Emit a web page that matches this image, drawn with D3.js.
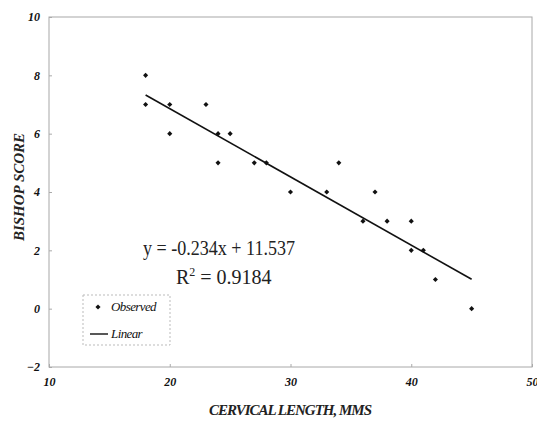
<!DOCTYPE html>
<html>
<head>
<meta charset="utf-8">
<script src="https://cdn.jsdelivr.net/npm/d3@7"></script>
<style>
  body { margin: 0; background: #fff; }
  svg { display: block; }
</style>
</head>
<body>
<svg id="chart" width="537" height="421"></svg>
<script>
'use strict'

// cervical length (mm) against bishop score
var cervicalLength = [18, 18, 20, 20, 23, 24, 24, 25, 27, 28, 30, 33, 34, 36, 37, 38, 40, 40, 41, 42, 45];
var bishopScore    = [ 8,  7,  7,  6,  7,  6,  5,  6,  5,  5,  4,  4,  5,  3,  4,  3,  3,  2,  2,  1,  0];

// fitted trend as printed on the chart
var slope = -0.234, intercept = 11.537, rSquared = 0.9184;

var xTicks = [10, 20, 30, 40, 50];
var yTicks = [-2, 0, 2, 4, 6, 8, 10];

var margin = {top: 17, right: 5, bottom: 54, left: 49};
var W = 537, H = 421;
var width = W - margin.left - margin.right, height = H - margin.top - margin.bottom;

var svg = d3.select('#chart');
var g = svg.append('g').attr('transform', 'translate(' + margin.left + ',' + margin.top + ')');

var x = d3.scaleLinear().domain([10, 50]).range([0, width]);
var y = d3.scaleLinear().domain([-2, 10]).range([height, 0]);

// plot frame
g.append('rect')
  .attr('width', width).attr('height', height)
  .attr('fill', 'none').attr('stroke', '#a8a8a8').attr('stroke-width', 1);

var xAxis = g.append('g')
  .attr('transform', 'translate(0,' + height + ')')
  .call(d3.axisBottom(x).tickValues(xTicks).tickSizeInner(-3).tickSizeOuter(0).tickPadding(10));
var yAxis = g.append('g')
  .call(d3.axisLeft(y).tickValues(yTicks).tickSizeInner(-3).tickSizeOuter(0).tickPadding(9));

[xAxis, yAxis].forEach(function(a){
  a.select('.domain').remove();
  a.selectAll('.tick line').attr('stroke', '#aaa');
  a.selectAll('.tick text')
    .attr('font-family', 'Liberation Serif')
    .attr('font-weight', 'bold')
    .attr('font-style', 'italic')
    .attr('font-size', 12)
    .attr('fill', '#111');
});

// trend line over the observed range
var xr = d3.extent(cervicalLength);
g.append('line')
  .attr('x1', x(xr[0])).attr('y1', y(slope * xr[0] + intercept))
  .attr('x2', x(xr[1])).attr('y2', y(slope * xr[1] + intercept))
  .attr('stroke', '#111').attr('stroke-width', 1.6);

// small square turned on its corner
var marker = d3.symbol().type(d3.symbolSquare).size(13);

g.selectAll('path.pt')
  .data(cervicalLength)
  .enter()
  .append('path')
  .attr('class', 'pt')
  .attr('d', marker)
  .attr('transform', function(d, i){
    return 'translate(' + x(d) + ',' + y(bishopScore[i]) + ') rotate(45)';
  })
  .attr('fill', '#111');

// equation labels
svg.append('text')
  .attr('x', 143).attr('y', 255)
  .attr('font-family', 'Liberation Serif, serif').attr('font-size', 20).attr('fill', '#222')
  .attr('textLength', 152).attr('lengthAdjust', 'spacingAndGlyphs')
  .text('y = ' + slope + 'x + ' + intercept);

var r2 = svg.append('text')
  .attr('x', 176).attr('y', 284)
  .attr('font-family', 'Liberation Serif, serif').attr('font-size', 20).attr('fill', '#222');
r2.append('tspan').text('R');
r2.append('tspan').attr('dy', -8).attr('font-size', 12).text('2');
r2.append('tspan').attr('dy', 8).text(' = ' + rSquared);

// legend
var lg = svg.append('g').attr('transform', 'translate(83,295)');
lg.append('rect')
  .attr('width', 87).attr('height', 50)
  .attr('fill', '#fff').attr('stroke', '#bbb').attr('stroke-dasharray', '2,2');
lg.append('path').attr('d', marker).attr('transform', 'translate(15,12) rotate(45)').attr('fill', '#111');
lg.append('line').attr('x1', 7).attr('x2', 25).attr('y1', 39).attr('y2', 39).attr('stroke', '#111').attr('stroke-width', 1.4);
lg.selectAll('text.lbl')
  .data(['Observed', 'Linear'])
  .enter()
  .append('text')
  .attr('class', 'lbl')
  .attr('x', 28)
  .attr('y', function(d, i){ return 16 + i * 27; })
  .attr('font-family', 'Liberation Serif, serif').attr('font-style', 'italic').attr('font-size', 13)
  .attr('letter-spacing', -0.6).attr('fill', '#111')
  .text(function(d){ return d; });

// axis titles
svg.append('text')
  .attr('transform', 'translate(24,187) rotate(-90)')
  .attr('text-anchor', 'middle')
  .attr('font-family', 'Liberation Serif, serif').attr('font-weight', 'bold').attr('font-style', 'italic')
  .attr('font-size', 15).attr('fill', '#222')
  .text('BISHOP SCORE');

svg.append('text')
  .attr('x', 290).attr('y', 415)
  .attr('text-anchor', 'middle')
  .attr('font-family', 'Liberation Serif, serif').attr('font-weight', 'bold').attr('font-style', 'italic')
  .attr('font-size', 15).attr('letter-spacing', -1).attr('fill', '#222')
  .text('CERVICAL LENGTH, MMS');
</script>
</body>
</html>
